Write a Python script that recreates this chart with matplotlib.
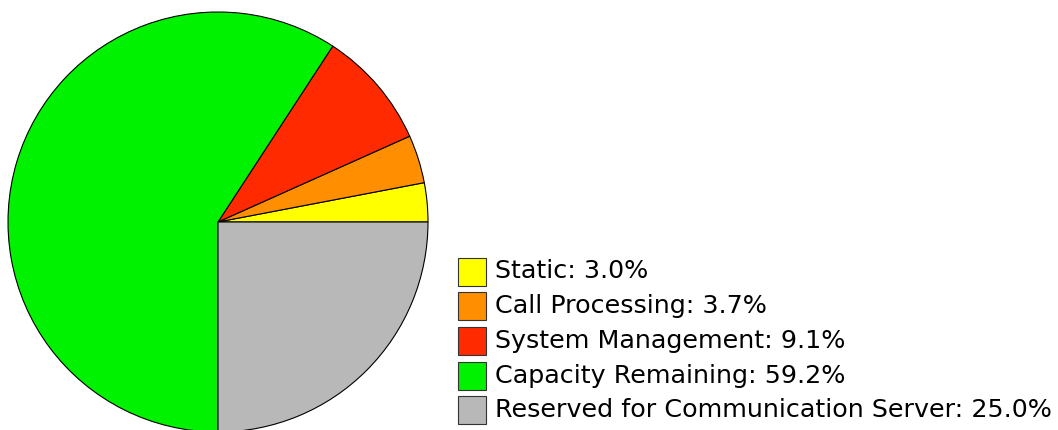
import matplotlib
matplotlib.use("Agg")
import matplotlib.pyplot as plt
from matplotlib.patches import Rectangle

labels = ["Static", "Call Processing", "System Management",
          "Capacity Remaining", "Reserved for Communication Server"]
shares = [3.0, 3.7, 9.1, 59.2, 25.0]
colors = ["#ffff00", "#ff8f00", "#ff2a00", "#00f200", "#b8b8b8"]

fig = plt.figure(figsize=(10.58, 4.30), dpi=100)
ax = fig.add_axes([0, 0, 1, 1])
ax.set_xlim(0, 1058)
ax.set_ylim(430, 0)
ax.set_aspect("equal")
ax.axis("off")

# pie in pixel coordinates, y axis points down so go clockwise to keep it ccw on screen
ax.pie(shares, colors=colors, center=(218, 222), radius=210,
       startangle=0, counterclock=False,
       wedgeprops={"edgecolor": "black", "linewidth": 0.8})
ax.set_xlim(0, 1058)
ax.set_ylim(430, 0)

# legend drawn by hand
top = 257.5
step = 34.7
for i, (lab, val, col) in enumerate(zip(labels, shares, colors)):
    y = top + i * step
    ax.add_patch(Rectangle((458, y), 28, 28, facecolor=col,
                           edgecolor="#333333", linewidth=0.8))
    ax.text(495, y + 21, f"{lab}: {val:.1f}%", fontsize=18.3,
            family="DejaVu Sans", va="baseline", ha="left", color="black")

fig.savefig("out.png", dpi=100)
